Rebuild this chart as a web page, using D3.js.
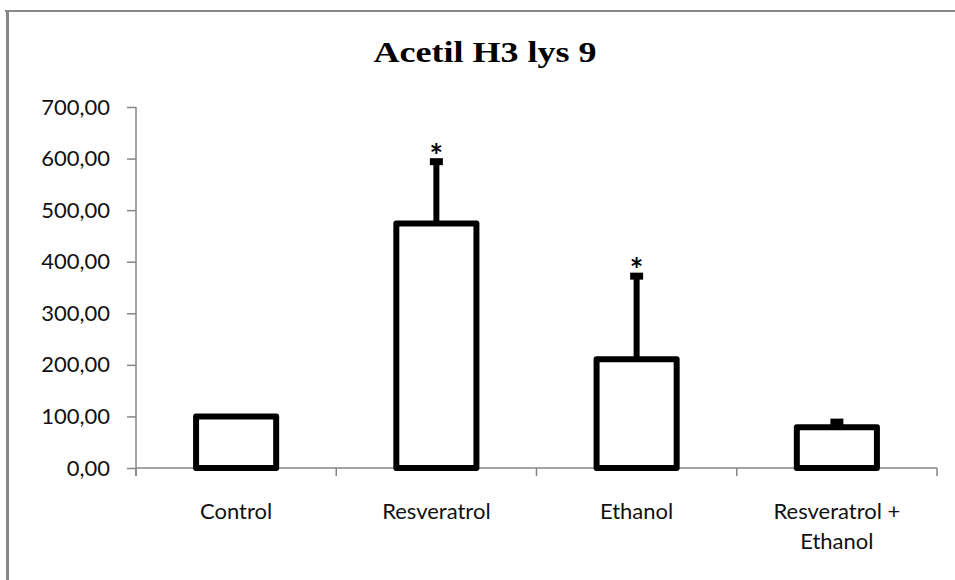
<!DOCTYPE html>
<html>
<head>
<meta charset="utf-8">
<script src="https://cdnjs.cloudflare.com/ajax/libs/d3/7.8.5/d3.min.js"></script>
<style>
  body { margin: 0; background: #fff; }
  .axis path, .axis line { stroke: #868686; stroke-width: 1.5; }
  .axis text { font-family: Lato, "Open Sans", sans-serif; font-size: 22px; fill: #111; }
</style>
</head>
<body>
<div id="chart"></div>
<script>
var categories = ["Control", "Resveratrol", "Ethanol", "Resveratrol + Ethanol"];
var labelLines = [["Control"], ["Resveratrol"], ["Ethanol"], ["Resveratrol +", "Ethanol"]];
var values = [100, 474, 211, 79];
var errors = [0, 120, 161, 10];
var significant = [false, true, true, false];
var yTicks = [0, 100, 200, 300, 400, 500, 600, 700];

var width = 955,
  height = 580;

var svg = d3.select("#chart")
  .append("svg")
  .attr("width", width)
  .attr("height", height);

// outer frame (only top and left visible)
svg.append("line")
  .attr("x1", 5).attr("x2", width)
  .attr("y1", 11).attr("y2", 11)
  .style("stroke", "#878787").style("stroke-width", 2);
svg.append("line")
  .attr("x1", 7.5).attr("x2", 7.5)
  .attr("y1", 10).attr("y2", height)
  .style("stroke", "#878787").style("stroke-width", 3);

// title
svg.append("text")
  .attr("transform", "translate(485,62) scale(1.2,1)")
  .attr("text-anchor", "middle")
  .style("font-family", "'Liberation Serif', 'Times New Roman', serif")
  .style("font-weight", "bold")
  .style("font-size", "30px")
  .text("Acetil H3 lys 9");

var x = d3.scaleBand()
  .domain(categories)
  .range([136, 937])
  .paddingInner(0.6)
  .paddingOuter(0.3);

var y = d3.scaleLinear()
  .domain([0, 700])
  .range([468, 107]);

var locale = d3.formatLocale({ decimal: ",", thousands: ".", grouping: [3], currency: ["", ""] });
var fmt = locale.format(".2f");

// y axis
var yAxis = svg.append("g")
  .attr("class", "axis")
  .attr("transform", "translate(136,0)")
  .call(d3.axisLeft(y).tickValues(yTicks).tickFormat(fmt).tickSize(9).tickPadding(17).tickSizeOuter(0));
yAxis.select(".domain").attr("d", "M0," + y(700) + "V" + (y(0) + 8));

// x axis with ticks at category boundaries
var step = x.step();
var bounds = categories.map(function(c) { return x(c) - (step - x.bandwidth()) / 2; });
bounds.push(bounds[bounds.length - 1] + step);

var xg = svg.append("g").attr("class", "axis");
xg.append("line")
  .attr("x1", 136).attr("x2", bounds[bounds.length - 1])
  .attr("y1", y(0)).attr("y2", y(0));
xg.selectAll(".xtick")
  .data(bounds)
  .enter().append("line")
  .attr("class", "xtick")
  .attr("x1", function(d) { return d; })
  .attr("x2", function(d) { return d; })
  .attr("y1", y(0))
  .attr("y2", y(0) + 8);

xg.selectAll(".xlabel")
  .data(categories)
  .enter().append("text")
  .attr("class", "xlabel")
  .attr("text-anchor", "middle")
  .attr("x", function(d) { return x(d) + x.bandwidth() / 2; })
  .attr("y", 519)
  .each(function(d, i) {
    var t = d3.select(this);
    labelLines[i].forEach(function(line, j) {
      t.append("tspan")
        .attr("x", x(d) + x.bandwidth() / 2)
        .attr("dy", j === 0 ? 0 : 30)
        .text(line);
    });
  });

// error bars (drawn under the bars so the stem starts at the bar top)
var err = svg.append("g");
err.selectAll(".stem")
  .data(categories)
  .enter().append("line")
  .attr("class", "stem")
  .attr("x1", function(d) { return x(d) + x.bandwidth() / 2; })
  .attr("x2", function(d) { return x(d) + x.bandwidth() / 2; })
  .attr("y1", function(d, i) { return y(values[i]); })
  .attr("y2", function(d, i) { return y(values[i] + errors[i]); })
  .style("stroke", "#000")
  .style("stroke-width", 6);
err.selectAll(".cap")
  .data(categories)
  .enter().append("line")
  .attr("class", "cap")
  .attr("x1", function(d) { return x(d) + x.bandwidth() / 2 - 6.5; })
  .attr("x2", function(d) { return x(d) + x.bandwidth() / 2 + 6.5; })
  .attr("y1", function(d, i) { return y(values[i] + errors[i]); })
  .attr("y2", function(d, i) { return y(values[i] + errors[i]); })
  .style("stroke", "#000")
  .style("stroke-width", 7)
  .style("opacity", function(d, i) { return errors[i] > 0 ? 1 : 0; });

// bars
svg.append("g")
  .selectAll("rect")
  .data(categories)
  .enter().append("rect")
  .attr("x", function(d) { return x(d); })
  .attr("width", x.bandwidth())
  .attr("y", function(d, i) { return y(values[i]); })
  .attr("height", function(d, i) { return y(0) - y(values[i]); })
  .style("fill", "#fff")
  .style("stroke", "#000")
  .style("stroke-width", 6)
  .style("stroke-linejoin", "round");

// significance stars
svg.append("g")
  .selectAll("text")
  .data(categories.filter(function(d, i) { return significant[i]; }))
  .enter().append("text")
  .attr("text-anchor", "middle")
  .attr("x", function(d) { return x(d) + x.bandwidth() / 2; })
  .attr("y", function(d) {
    var i = categories.indexOf(d);
    return y(values[i] + errors[i]) + 6;
  })
  .style("font-family", "Lato, sans-serif")
  .style("font-weight", "bold")
  .style("font-size", "32px")
  .text("*");
</script>
</body>
</html>
